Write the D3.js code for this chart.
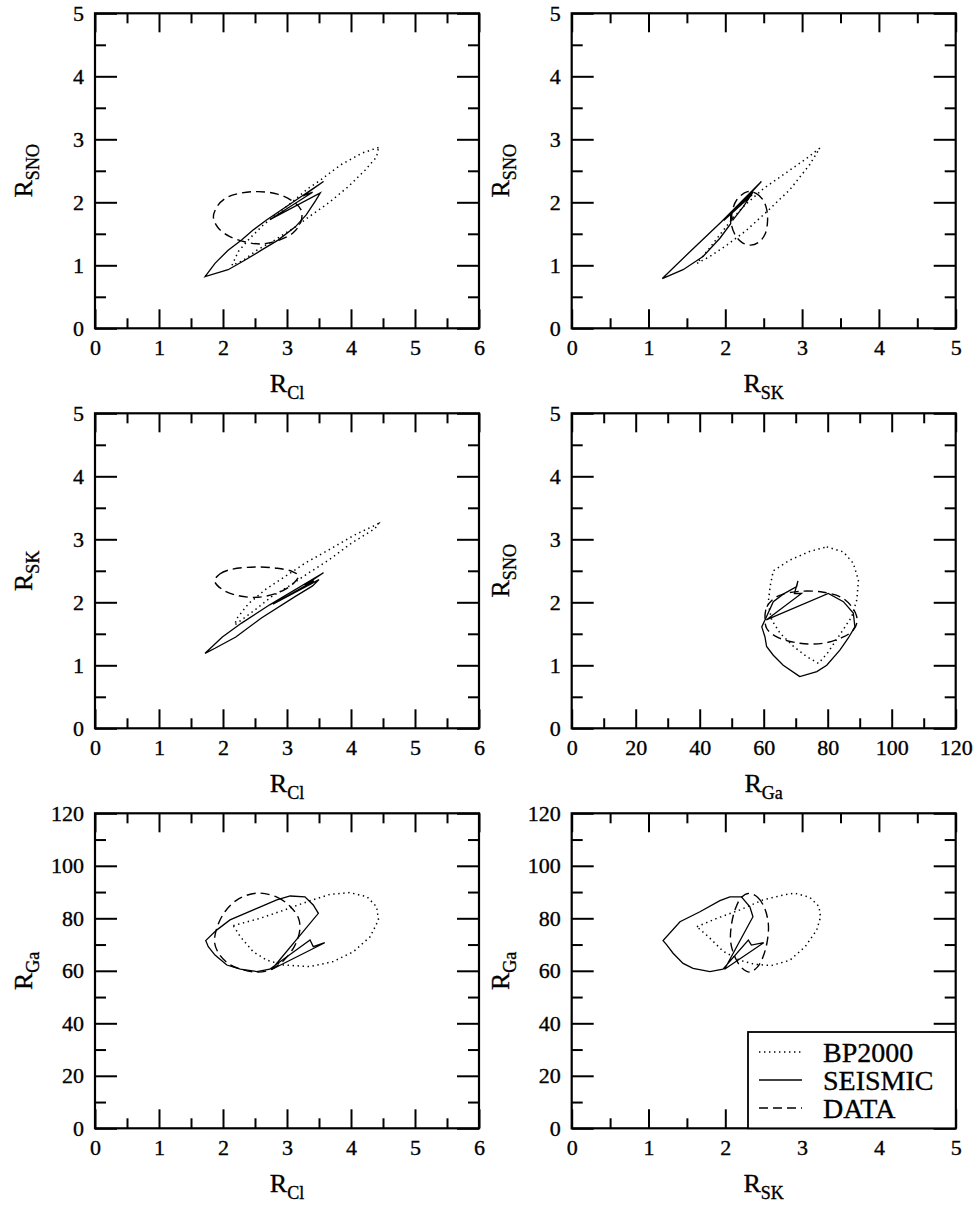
<!DOCTYPE html>
<html><head><meta charset="utf-8">
<script src="https://cdn.jsdelivr.net/npm/d3@7/dist/d3.min.js"></script>
<style>
body{margin:0;background:#fff}
text{font-family:"Liberation Serif","Times New Roman",Times,serif;fill:#000;stroke:#000;stroke-width:0.35px}
</style>
</head><body>
<svg id="c" width="977" height="1211" xmlns="http://www.w3.org/2000/svg"></svg>
<script>
// ---------------- data ----------------
// axis subscripts
const xLabels = ["Cl","SK","Cl","Ga","Cl","SK"];
const yLabels = ["SNO","SNO","SK","SNO","Ga","Ga"];
const xMax = [6,5,6,120,6,5];
const yMax = [5,5,5,5,120,120];
const legendLabels = ["BP2000","SEISMIC","DATA"];

// Panel 1 : R_Cl vs R_SNO
const bp_Cl_SNO = [[4.43,2.87],[4.17,2.78],[3.85,2.60],[3.70,2.49],[3.52,2.35],[3.33,2.22],[3.10,2.02],[2.85,1.82],[2.63,1.64],[2.42,1.43],[2.24,1.22],[2.14,1.00],[2.32,1.08],[2.53,1.24],[2.81,1.40],[3.13,1.61],[3.33,1.76],[3.65,1.99],[3.96,2.25],[4.22,2.51],[4.40,2.72]];
const seis_Cl_SNO = [[1.72,0.82],[1.875,1.03],[2.08,1.24],[2.29,1.40],[2.47,1.56],[2.68,1.72],[3.57,2.33],[3.25,2.10],[3.40,2.16],[2.74,1.73],[3.52,2.15],[3.45,2.03],[3.30,1.80],[3.13,1.61],[2.86,1.40],[2.60,1.24],[2.34,1.08],[2.08,0.93]];
const data_Cl_SNO = [[1.85,1.77],[1.92,1.95],[2.05,2.07],[2.25,2.14],[2.55,2.17],[2.85,2.13],[3.07,2.03],[3.22,1.88],[3.22,1.70],[3.10,1.52],[2.88,1.40],[2.62,1.34],[2.35,1.37],[2.10,1.46],[1.92,1.60]];

// Panel 2 : R_SK vs R_SNO
const bp_SK_SNO = [[3.23,2.86],[3.04,2.68],[2.84,2.51],[2.50,2.22],[2.25,1.95],[2.10,1.75],[1.97,1.55],[1.80,1.28],[1.63,1.03],[1.80,1.14],[2.03,1.33],[2.27,1.55],[2.54,1.85],[2.84,2.20],[3.10,2.60]];
const seis_SK_SNO = [[1.18,0.79],[1.56,1.24],[1.95,1.69],[2.47,2.33],[2.28,2.08],[2.35,2.12],[1.98,1.71],[2.365,2.17],[2.235,1.93],[2.10,1.72],[2.07,1.83],[2.07,1.66],[1.93,1.43],[1.71,1.14],[1.45,0.93]];
const data_SK_SNO = [[2.29,2.17],[2.40,2.14],[2.49,2.04],[2.54,1.88],[2.55,1.70],[2.52,1.50],[2.44,1.37],[2.33,1.32],[2.22,1.36],[2.13,1.48],[2.08,1.65],[2.09,1.85],[2.15,2.04]];

// Panel 3 : R_Cl vs R_SK
const bp_Cl_SK = [[4.43,3.25],[4.06,3.07],[3.65,2.83],[3.28,2.62],[2.97,2.41],[2.66,2.20],[2.40,1.98],[2.22,1.75],[2.18,1.64],[2.29,1.72],[2.50,1.88],[2.76,2.09],[3.02,2.25],[3.33,2.46],[3.65,2.67],[4.01,2.94],[4.375,3.17]];
const seis_Cl_SK = [[1.72,1.19],[1.99,1.45],[2.29,1.67],[2.73,1.96],[3.57,2.47],[3.28,2.27],[3.42,2.34],[2.78,1.97],[3.50,2.36],[3.40,2.26],[3.125,2.09],[2.60,1.75],[2.20,1.45],[1.875,1.27]];
const data_Cl_SK = [[1.87,2.34],[1.95,2.45],[2.12,2.52],[2.50,2.56],[2.85,2.54],[3.08,2.49],[3.18,2.42],[3.10,2.30],[2.88,2.16],[2.55,2.08],[2.22,2.11],[1.98,2.21]];

// Panel 4 : R_Ga vs R_SNO
const bp_Ga_SNO = [[79.7,2.88],[84.9,2.80],[88.0,2.62],[89.6,2.35],[89.1,2.04],[87.5,1.77],[82.8,1.41],[80.0,1.20],[77.1,1.03],[73.4,1.14],[69.3,1.30],[65.1,1.51],[62.5,1.72],[61.4,1.98],[62.0,2.25],[63.0,2.50],[68.2,2.67],[74.5,2.81]];
const seis_Ga_SNO = [[71.3,0.82],[66.1,1.00],[63.0,1.16],[60.9,1.30],[60.4,1.45],[59.4,1.61],[60.4,1.72],[63.0,2.01],[66.1,2.13],[70.3,2.25],[70.7,2.34],[69.6,2.14],[71.8,2.14],[60.8,1.72],[80.2,2.14],[84.9,2.01],[88.0,1.83],[88.5,1.61],[86.4,1.43],[83.8,1.24],[79.7,1.00],[76.6,0.90]];
const data_Ga_SNO = [[60.4,1.72],[61.0,1.93],[64.1,2.09],[70.3,2.17],[78.6,2.16],[84.9,2.06],[88.5,1.85],[89.2,1.70],[88.0,1.56],[84.9,1.45],[78.6,1.35],[71.3,1.35],[64.1,1.45],[61.0,1.58]];

// Panel 5 : R_Cl vs R_Ga
const bp_Cl_Ga = [[2.16,77.2],[2.58,80.0],[2.94,83.0],[3.36,86.7],[3.67,89.1],[3.98,89.8],[4.25,88.2],[4.40,84.4],[4.43,79.4],[4.30,73.0],[4.04,67.3],[3.72,63.5],[3.36,61.6],[2.94,62.2],[2.68,64.1],[2.47,67.3],[2.27,73.0]];
const seis_Cl_Ga = [[1.73,71.5],[1.77,69.2],[1.875,66.0],[2.06,62.2],[2.27,60.6],[2.53,59.7],[2.73,60.6],[3.36,71.7],[3.41,69.2],[3.59,70.7],[2.76,60.5],[3.49,81.9],[3.41,85.1],[3.28,88.2],[3.05,88.5],[2.84,87.0],[2.53,83.8],[2.11,79.4],[1.90,75.5]];
const data_Cl_Ga = [[2.55,89.6],[2.85,88.0],[3.05,84.5],[3.18,80.0],[3.20,75.5],[3.12,69.5],[2.95,64.0],[2.75,60.5],[2.55,59.5],[2.30,60.5],[2.10,62.5],[1.95,66.0],[1.87,70.5],[1.90,76.0],[2.03,82.5],[2.25,87.5]];

// Panel 6 : R_SK vs R_Ga
const bp_SK_Ga = [[1.63,76.8],[1.89,80.0],[2.19,83.2],[2.49,87.0],[2.76,88.9],[2.90,89.6],[3.10,88.0],[3.22,84.5],[3.24,80.5],[3.19,75.5],[3.04,69.2],[2.84,64.0],[2.60,62.0],[2.38,62.5],[2.19,64.0],[1.97,67.5],[1.78,73.0]];
const seis_SK_Ga = [[1.19,71.5],[1.24,69.8],[1.32,66.7],[1.45,62.8],[1.58,60.9],[1.80,59.7],[1.97,60.6],[2.30,71.7],[2.34,69.8],[2.50,70.7],[1.99,60.6],[2.36,80.6],[2.32,84.4],[2.21,88.2],[2.06,88.2],[1.93,86.7],[1.67,82.5],[1.41,78.7]];
const data_SK_Ga = [[2.31,89.5],[2.42,88.0],[2.51,84.0],[2.56,78.0],[2.55,72.0],[2.50,66.0],[2.42,61.5],[2.32,59.5],[2.22,61.0],[2.13,65.0],[2.07,71.0],[2.08,77.5],[2.13,83.5],[2.21,88.0]];

const bpSets = [bp_Cl_SNO, bp_SK_SNO, bp_Cl_SK, bp_Ga_SNO, bp_Cl_Ga, bp_SK_Ga];
const seisSets = [seis_Cl_SNO, seis_SK_SNO, seis_Cl_SK, seis_Ga_SNO, seis_Cl_Ga, seis_SK_Ga];
const dataSets = [data_Cl_SNO, data_SK_SNO, data_Cl_SK, data_Ga_SNO, data_Cl_Ga, data_SK_Ga];

// ---------------- layout ----------------
const colX = [[95,479],[571.7,955.7]];
const rowY = [[13.3,328.3],[413.3,728.3],[813.3,1128.3]];

const svg = d3.select("#c");
const styles = {
  bp:   {dash:"1.4,3.6", w:1.5},
  seis: {dash:null, w:1.3},
  data: {dash:"9,5", w:1.4}
};

function ticksFor(max){
  if(max===120) return {major:d3.range(0,121,20), minor:d3.range(10,120,20)};
  return {major:d3.range(0,max+0.001,1), minor:d3.range(0.5,max,1)};
}

for(let i=0;i<6;i++){
  const [x0,x1] = colX[i%2];
  const [y0,y1] = rowY[Math.floor(i/2)];
  const xs = d3.scaleLinear().domain([0,xMax[i]]).range([x0,x1]);
  const ys = d3.scaleLinear().domain([0,yMax[i]]).range([y1,y0]);
  const g = svg.append("g");
  const xt = ticksFor(xMax[i]), yt = ticksFor(yMax[i]);

  const mk = (axis, scale, vals, size, labels) => {
    const a = axis(scale).tickValues(vals).tickSizeInner(-size).tickSizeOuter(0).tickPadding(11);
    a.tickFormat(labels ? d3.format("d") : "");
    return a;
  };
  // bottom
  const gb = g.append("g").attr("transform",`translate(0,${y1})`);
  gb.call(mk(d3.axisBottom, xs, xt.major, 19, true));
  gb.append("g").call(mk(d3.axisBottom, xs, xt.minor, 10, false));
  // top
  const gt = g.append("g").attr("transform",`translate(0,${y0})`);
  gt.call(mk(d3.axisTop, xs, xt.major, 19, false));
  gt.append("g").call(mk(d3.axisTop, xs, xt.minor, 10, false));
  // left
  const gl = g.append("g").attr("transform",`translate(${x0},0)`);
  gl.call(mk(d3.axisLeft, ys, yt.major, 22, true));
  gl.append("g").call(mk(d3.axisLeft, ys, yt.minor, 11, false));
  // right
  const gr = g.append("g").attr("transform",`translate(${x1},0)`);
  gr.call(mk(d3.axisRight, ys, yt.major, 22, false));
  gr.append("g").call(mk(d3.axisRight, ys, yt.minor, 11, false));

  g.selectAll(".domain").remove();
  g.selectAll(".tick line").attr("stroke","#000").attr("stroke-width",2);
  g.selectAll(".tick text").attr("font-size",22).attr("fill","#000");

  g.append("rect").attr("x",x0).attr("y",y0).attr("width",x1-x0).attr("height",y1-y0)
    .attr("fill","none").attr("stroke","#000").attr("stroke-width",2.2);

  // titles
  const xt1 = g.append("text").attr("x",(x0+x1)/2).attr("y",y1+64).attr("text-anchor","middle");
  xt1.append("tspan").attr("font-size",26).text("R");
  xt1.append("tspan").attr("font-size",18).attr("dy",7).text(xLabels[i]);
  const cy = (y0+y1)/2;
  const yt1 = g.append("text").attr("transform",`translate(${x0-63},${cy}) rotate(-90)`).attr("text-anchor","middle");
  yt1.append("tspan").attr("font-size",26).text("R");
  yt1.append("tspan").attr("font-size",18).attr("dy",7).text(yLabels[i]);

  // curves
  const line = d3.line().x(d=>xs(d[0])).y(d=>ys(d[1]));
  g.append("path").attr("d", line.curve(d3.curveLinearClosed)(bpSets[i]))
    .attr("fill","none").attr("stroke","#000").attr("stroke-width",styles.bp.w).attr("stroke-dasharray",styles.bp.dash);
  g.append("path").attr("d", line.curve(d3.curveCatmullRomClosed)(dataSets[i]))
    .attr("fill","none").attr("stroke","#000").attr("stroke-width",styles.data.w).attr("stroke-dasharray",styles.data.dash);
  g.append("path").attr("d", line.curve(d3.curveLinearClosed)(seisSets[i]))
    .attr("fill","none").attr("stroke","#000").attr("stroke-width",styles.seis.w).attr("stroke-linejoin","miter");

  if(i===5){
    const lg = g.append("g");
    const bx0 = 748, by0 = 1032;
    lg.append("rect").attr("x",bx0).attr("y",by0).attr("width",x1-bx0).attr("height",y1-by0)
      .attr("fill","#fff").attr("stroke","#000").attr("stroke-width",1.8);
    const keys = ["bp","seis","data"];
    legendLabels.forEach((lab,k)=>{
      const yy = 1052 + k*28;
      const st = styles[keys[k]];
      lg.append("line").attr("x1",759).attr("x2",802).attr("y1",yy).attr("y2",yy)
        .attr("stroke","#000").attr("stroke-width",st.w).attr("stroke-dasharray",st.dash);
      lg.append("text").attr("x",823).attr("y",yy+10).attr("font-size",28).text(lab);
    });
  }
}
</script>
</body></html>
